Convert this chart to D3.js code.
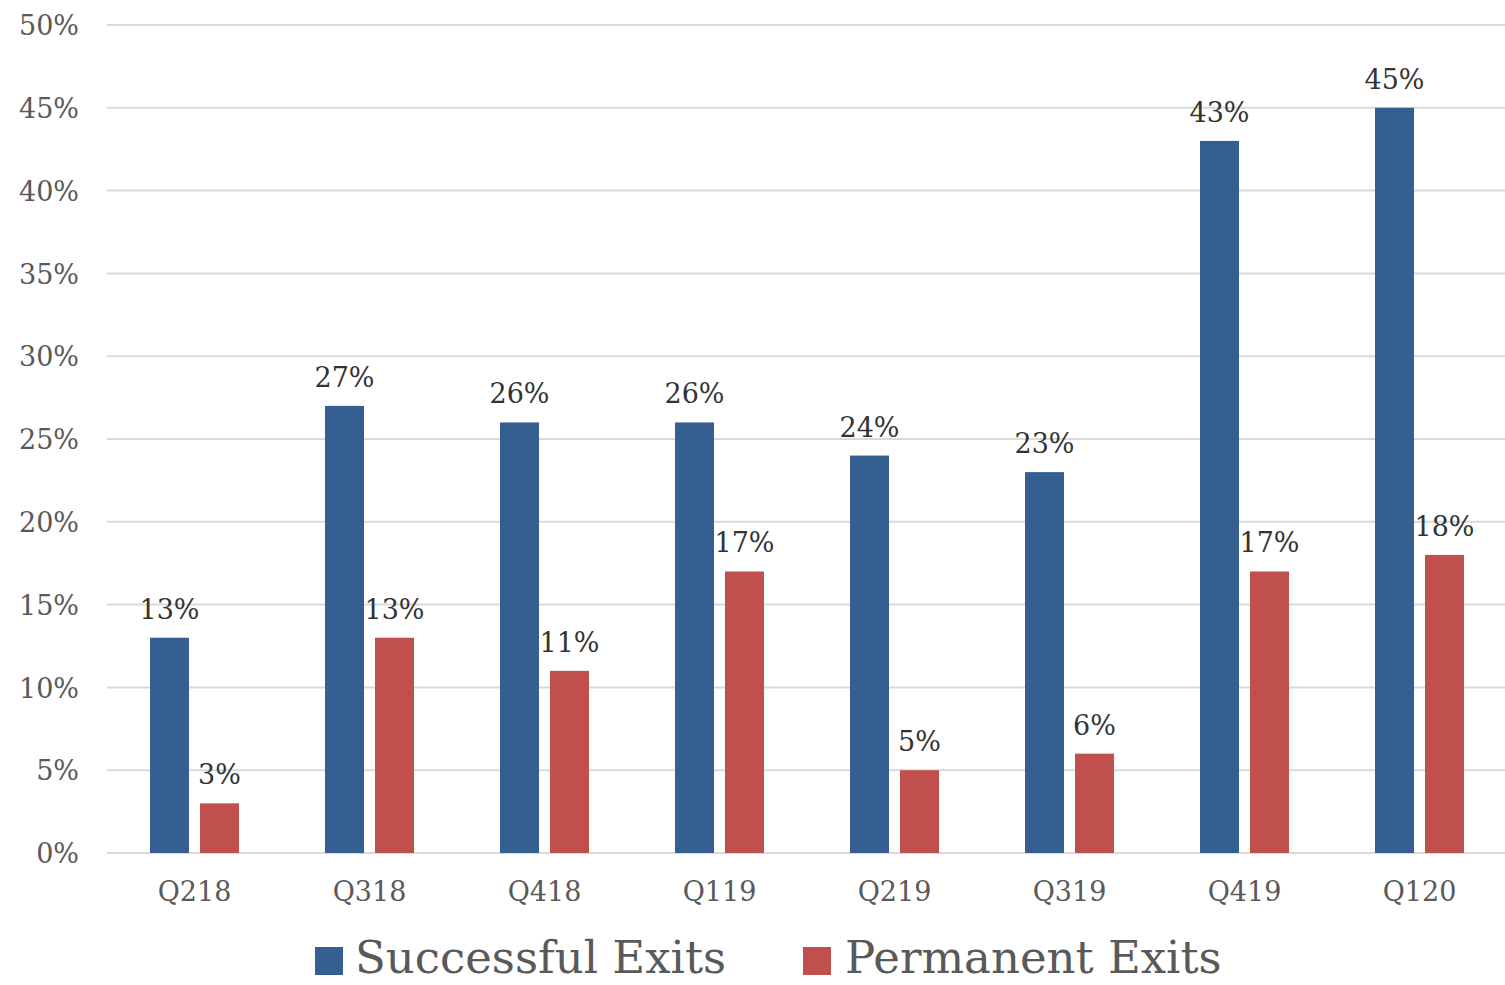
<!DOCTYPE html>
<html>
<head>
<meta charset="utf-8">
<script src="https://cdn.jsdelivr.net/npm/d3@7"></script>
<style>
  html, body { margin: 0; padding: 0; background: #fff; }
  svg { display: block; }
  text { font-family: "DejaVu Serif", "Liberation Serif", serif; }
</style>
</head>
<body>
<svg id="chart" width="1505" height="985"></svg>
<script>
// Quarterly exit rates
const quarters = ["Q218", "Q318", "Q418", "Q119", "Q219", "Q319", "Q419", "Q120"];
const successfulExits = [13, 27, 26, 26, 24, 23, 43, 45];
const permanentExits = [3, 13, 11, 17, 5, 6, 17, 18];
const yTicks = [0, 5, 10, 15, 20, 25, 30, 35, 40, 45, 50];
const seriesNames = ["Successful Exits", "Permanent Exits"];
const seriesColors = ["#355f91", "#c0504d"];

const svg = d3.select("#chart");
const W = 1505;

const x = d3.scaleBand().domain(quarters).range([107, 1507]).paddingInner(0).paddingOuter(0);
const y = d3.scaleLinear().domain([0, 50]).range([853, 25]);

const barW = 39, barOff = 25;

// gridlines
svg.append("g").selectAll("line").data(yTicks).join("line")
  .attr("x1", 107).attr("x2", W)
  .attr("y1", d => y(d)).attr("y2", d => y(d))
  .attr("stroke", "#d9d9d9").attr("stroke-width", 2);

// y tick labels
svg.append("g").selectAll("text").data(yTicks).join("text")
  .attr("x", 79).attr("y", d => y(d)).attr("dy", "0.38em")
  .attr("text-anchor", "end").attr("font-size", 27).attr("fill", "#595959")
  .text(d => d + "%");

// x labels
svg.append("g").selectAll("text").data(quarters).join("text")
  .attr("x", d => x(d) + x.bandwidth() / 2).attr("y", 892).attr("dy", "0.35em")
  .attr("text-anchor", "middle").attr("font-size", 27).attr("fill", "#595959")
  .text(d => d);

const series = [successfulExits, permanentExits];
series.forEach((vals, si) => {
  const off = si === 0 ? -barOff : barOff;
  const g = svg.append("g");
  g.selectAll("rect").data(quarters).join("rect")
    .attr("x", (q) => x(q) + x.bandwidth() / 2 + off - barW / 2)
    .attr("y", (q, i) => y(vals[i]))
    .attr("width", barW)
    .attr("height", (q, i) => y(0) - y(vals[i]))
    .attr("fill", seriesColors[si]);
  g.selectAll("text").data(quarters).join("text")
    .attr("x", (q) => x(q) + x.bandwidth() / 2 + off)
    .attr("y", (q, i) => y(vals[i]) - 19)
    .attr("text-anchor", "middle").attr("font-size", 27).attr("fill", "#333333")
    .text((q, i) => vals[i] + "%");
});

// legend
const legend = svg.append("g");
const legendItems = [{x: 315, tx: 355}, {x: 803, tx: 845}];
seriesNames.forEach((name, i) => {
  legend.append("rect").attr("x", legendItems[i].x).attr("y", 947)
    .attr("width", 28).attr("height", 28).attr("fill", seriesColors[i]);
  legend.append("text").attr("x", legendItems[i].tx).attr("y", 973)
    .attr("font-size", 45).attr("fill", "#595959").text(name);
});
</script>
</body>
</html>
